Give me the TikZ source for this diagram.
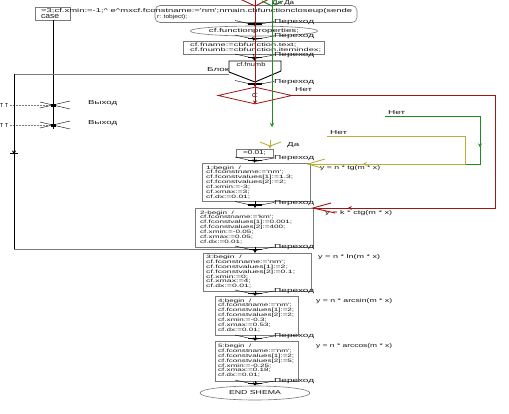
\documentclass[tikz,border=0pt]{standalone}
\usepackage{fontspec}
\usepackage{graphicx}
\setmainfont{Liberation Sans}
\usetikzlibrary{arrows.meta,shapes.geometric,decorations.markings}
\definecolor{rd}{HTML}{A31515}
\definecolor{gn}{HTML}{1E8C1E}
\definecolor{ol}{HTML}{B8AF3A}
\definecolor{bx}{HTML}{7A7A7A}
\definecolor{tx}{HTML}{151515}
\newcommand\q{\textquotesingle}
\newcommand\lab[2]{\resizebox{#1}{4pt}{#2}}
\newcommand\blk[3]{\resizebox*{#1}{#2}{\begin{tabular}{@{}l@{}}#3\end{tabular}}}
\tikzset{
 every node/.style={font=\fontsize{5.3}{5.35}\selectfont, text=tx, inner sep=0pt},
 lbl/.style={anchor=west},
 frame/.style={draw=bx, line width=0.6pt},
 flow/.style={draw=black, line width=0.6pt, -{Stealth[length=3.5pt,width=4pt]}},
 redl/.style={draw=rd, line width=0.9pt},
 grnl/.style={draw=gn, line width=0.9pt},
 oll/.style={draw=ol, line width=0.9pt},
 tip/.style={-{Stealth[length=4pt,width=4pt]}},
 midarrow/.style={postaction={decorate}, decoration={markings, mark=at position #1 with {\arrow{Stealth[length=4pt,width=4pt]}}}},
}
\newcommand\perehod[2]{%
 \draw[black, line width=0.4pt] (235,#1-3.5) -- (255,#1+1) -- (274,#1-2.5);
 \draw[black, line width=1.2pt] (248,#1) -- (262,#1);
 \node[lbl] (#2) at (274,#1-2) {\lab{40pt}{Переход}};}
\begin{document}
\begin{tikzpicture}[x=1pt,y=-1pt]
\useasboundingbox (0,0) rectangle (509,413);
% top left
\node[frame, minimum width=35pt, minimum height=13pt] (A) at (53,13.5) {};
\node[lbl] (atxt) at (41,11) {\lab{311pt}{=3;cf.xmin:=-1;\textasciicircum{} e\textasciicircum{}mxcf.fconstname:=\q nm\q;nmain.cbfunctioncloseup(sende}};
\node[lbl] (acase) at (41,16.8) {\lab{18pt}{case}};
% top rounded
\node[frame, rounded corners=5pt, minimum width=202pt, minimum height=17pt] (B) at (256,14) {};
\node[lbl] (btxt) at (157,17.5) {\lab{30pt}{r: tobject);}};
\node[lbl] (dada) at (272,3) {\lab{22pt}{Да Да}};
% functionproperties
\node[frame, ellipse, minimum width=108pt, minimum height=10pt] (fp) at (254,31) {\lab{90pt}{cf.functionproperties;}};
% fname
\node[frame, minimum width=141pt, minimum height=13pt] (fn) at (253.5,47.5) {};
\node[anchor=north west] (fntxt) at (190,42.5) {\blk{131pt}{10pt}{cf.fname:=cbfunction.text;\\cf.fnumb:=cbfunction.itemindex;}};
% case shape
\node (fnumb) at (251,65) {\lab{29pt}{cf.fnumb}};
\draw[black, line width=0.9pt] (229,72) -- (229,61) -- (281,61) -- (281,71) -- (255,82);
\draw[black, line width=0.9pt] (229,72) -- (255,82);
\coordinate (cbot) at (255,82);
\coordinate (blk) at (229,74);
\node[lbl] (blok) at (207,70) {\lab{22pt}{Блок}};
% diamond
\node[diamond, draw=rd, line width=0.8pt, minimum width=74pt, minimum height=17pt, aspect=4.3] (dia) at (255,95.5) {\lab{6pt}{c:}};
\node[lbl] (net1) at (295,90) {\lab{17pt}{Нет}};
% =0.01
\node[frame, minimum width=37pt, minimum height=8pt] (d001) at (254.5,153) {\lab{23pt}{=0.01;}};
% boxes
\node[frame, minimum width=108pt, minimum height=38pt] (b1) at (256,182) {};
\node[anchor=north west] (b1t) at (206,165.5) {\blk{87pt}{34pt}{1:begin~~/\\cf.fconstname:=\q nm\q;\\cf.fconstvalues[1]:=1.3;\\cf.fconstvalues[2]:=2;\\cf.xmin:=-3;\\cf.xmax:=3;\\cf.dx:=0.01;}};
\node[frame, minimum width=118pt, minimum height=39pt] (b2) at (254,227.5) {};
\node[anchor=north west] (b2t) at (200,210.5) {\blk{92pt}{34pt}{2-begin~~/\\cf.fconstname:=\q km\q;\\cf.fconstvalues[1]:=0.001;\\cf.fconstvalues[2]:=400;\\cf.xmin:=-0.05;\\cf.xmax:=0.05;\\cf.dx:=0.01;}};
\node[frame, minimum width=108pt, minimum height=38pt] (b3) at (257,272) {};
\node[anchor=north west] (b3t) at (206,255) {\blk{89pt}{34pt}{3:begin~~/\\cf.fconstname:=\q nm\q;\\cf.fconstvalues[1]:=2;\\cf.fconstvalues[2]:=0.1;\\cf.xmin:=0;\\cf.xmax:=4;\\cf.dx:=0.01;}};
\node[frame, minimum width=83pt, minimum height=39pt] (b4) at (256.5,315.5) {};
\node[anchor=north west] (b4t) at (218,298.5) {\blk{76pt}{34pt}{4:begin~~/\\cf.fconstname:=\q nm\q;\\cf.fconstvalues[1]:=2;\\cf.fconstvalues[2]:=2;\\cf.xmin:=-0.3;\\cf.xmax:=0.53;\\cf.dx:=0.01;}};
\node[frame, minimum width=83pt, minimum height=40pt] (b5) at (256.5,361) {};
\node[anchor=north west] (b5t) at (218,344) {\blk{76pt}{34pt}{5:begin~~/\\cf.fconstname:=\q nm\q;\\cf.fconstvalues[1]:=2;\\cf.fconstvalues[2]:=5;\\cf.xmin:=-0.25;\\cf.xmax:=0.18;\\cf.dx:=0.01;}};
\node[frame, ellipse, minimum width=110pt, minimum height=14pt] (end) at (255,393) {\lab{52pt}{END SHEMA}};
% formula labels
\node[lbl] (f1) at (320,168) {\lab{60pt}{y = n * tg(m * x)}};
\node[lbl] (f2) at (325,213) {\lab{67pt}{y = k * ctg(m * x)}};
\node[lbl] (f3) at (318,257) {\lab{62pt}{y = n * ln(m * x)}};
\node[lbl] (f4) at (316,301) {\lab{76pt}{y = n * arcsin(m * x)}};
\node[lbl] (f5) at (316,346) {\lab{76pt}{y = n * arccos(m * x)}};
% black flow
\draw[flow] (B.south) -- (fp.north);
\draw[flow] (fp.south) -- (fn.south |- fn.north);
\draw[flow] (fn.south) -- (255,61);
\draw[flow] (cbot) -- (dia.north);
\draw[flow] (d001.south) -- (d001.south |- b1.north);
\draw[flow] (255,201) -- (255,208);
\draw[flow] (255,247) -- (255,253);
\draw[flow] (255,291) -- (255,296);
\draw[flow] (255,335) -- (255,341);
\draw[flow] (255,381) -- (end.north);
\perehod{24}{p1}
\perehod{38.5}{p2}
\perehod{57.5}{p3}
\perehod{84}{p4}
\perehod{160.5}{p5}
\perehod{205}{p6}
\perehod{249.5}{p7}
\perehod{293.5}{p8}
\perehod{338.5}{p9}
\perehod{383.5}{p10}
% left side
\coordinate (lvb) at (53,129);
\draw[black, line width=0.9pt] (A.south) -- (lvb);
\foreach \yy/\nm in {105/e1,125/e2}{
 \draw[black, line width=0.4pt] (40,\yy-3) -- (70,\yy+4);
 \draw[black, line width=0.4pt] (40,\yy+3) -- (70,\yy-4);
 \draw[bx, line width=0.6pt, dash pattern=on 2pt off 1pt] (10,\yy) -- (51,\yy);
 \fill[black] (50.5,\yy-1.5) rectangle (55.5,\yy+1.5);
 \node[anchor=west] at (0,\yy) {\lab{8pt}{т т}};
 \node[lbl] (\nm) at (88,\yy-2) {\lab{29pt}{Выход}};
}
\coordinate (lc1) at (14,74);
\coordinate (lc2) at (14,249);
\coordinate (lc3) at (249,249);
\draw[bx, line width=0.6pt] (blk) -- (lc1);
\draw[black, line width=1pt, midarrow=0.46] (lc1) -- (lc2);
\draw[black, line width=0.5pt] (10,153) -- (18,153);
\draw[bx, line width=0.8pt] (lc2) -- (lc3);
% red branch
\coordinate (rtop) at (255,0);
\draw[redl, tip] (rtop) -- (dia.south);
\draw[redl] (240,-1) -- (255,6) -- (269,-1);
\coordinate (r1) at (495,95.5);
\coordinate (r2) at (495,208);
\coordinate (r3) at (313,208);
\draw[redl, midarrow=0.93] (dia.east) -- (r1) -- (r2) -- (r3);
\draw[redl] (331,203) -- (r3) -- (335,213);
% green branch
\coordinate (gtop) at (272,0);
\coordinate (gend) at (272,127);
\draw[grnl, tip] (gtop) -- (gend);
\draw[grnl] (262,1) -- (272,6) -- (283,1);
\coordinate (g0) at (385,116);
\coordinate (g1) at (480,116);
\coordinate (g2) at (480,164);
\coordinate (g3) at (465,164);
\node[lbl] (net2) at (388,112.5) {\lab{17pt}{Нет}};
\draw[grnl, midarrow=0.8] (g0) -- (g1) -- (g2) -- (g3);
% olive branch
\coordinate (o0) at (327,136);
\coordinate (o1) at (465,136);
\coordinate (o2) at (465,164);
\coordinate (o3) at (308,164);
\node[lbl] (net3) at (330,132.5) {\lab{17pt}{Нет}};
\draw[oll, midarrow=0.83] (o0) -- (o1) -- (o2) -- (o3);
\draw[oll] (325,159) -- (o3) -- (322,168);
\coordinate (ytop) at (270,140);
\draw[oll, tip] (ytop) -- (d001.north -| ytop);
\draw[oll] (260,142) -- (270,146) -- (281,142);
\node[lbl] (da) at (287,145) {\lab{12pt}{Да}};
\end{tikzpicture}
\end{document}
